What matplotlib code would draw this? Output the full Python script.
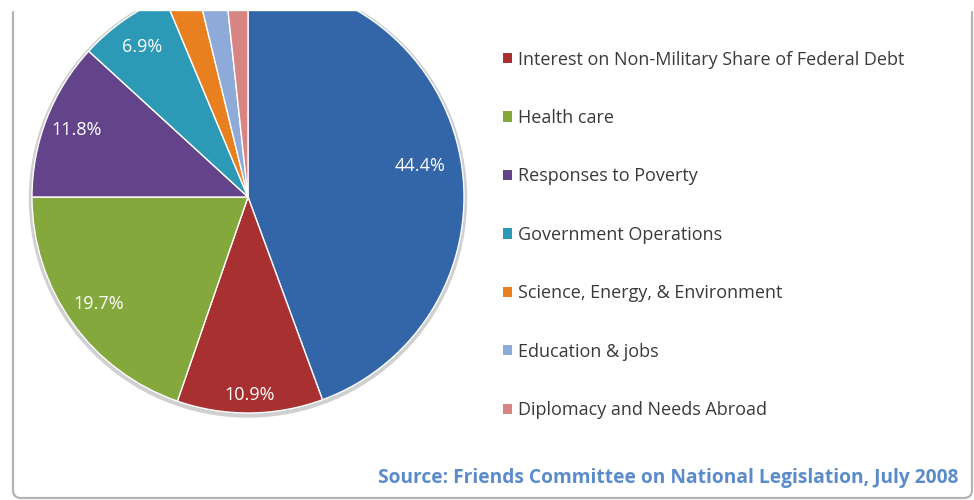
import matplotlib.pyplot as plt
from matplotlib.patches import FancyBboxPatch, Rectangle, Circle

# data
labels = ['Military',
          'Interest on Non-Military Share of Federal Debt',
          'Health care',
          'Responses to Poverty',
          'Government Operations',
          'Science, Energy, & Environment',
          'Education & jobs',
          'Diplomacy and Needs Abroad']
shares = [44.4, 10.9, 19.7, 11.8, 6.9, 2.5, 2.1, 1.7]
colors = ['#3366a8', '#a83030', '#84a83c', '#63448a', '#2c9ab6',
          '#e8801f', '#8eaad8', '#d68484']
source = 'Source: Friends Committee on National Legislation, July 2008'

plt.rcParams['font.family'] = ['Open Sans', 'DejaVu Sans']

fig = plt.figure(figsize=(9.74, 5.0), dpi=100)
ax = fig.add_axes([0, 0, 1, 1])

# rounded frame, top is cut off like the screenshot
frame = FancyBboxPatch((13, 2), 959, 540, boxstyle='round,pad=0,rounding_size=8',
                       facecolor='white', edgecolor='#b4b4b4', lw=1.6, zorder=0)
ax.add_patch(frame)

cx, cy, r = 248, 303, 216
ax.add_patch(Circle((cx, cy - 1.5), r + 2.5, color='#d0d0d0', zorder=1))

def pct(v):
    return '%.1f%%' % v if v > 5 else ''

wedges, texts, autotexts = ax.pie(shares, colors=colors, startangle=90, counterclock=False,
                                  center=(cx, cy), radius=r, frame=True,
                                  autopct=pct, pctdistance=0.85,
                                  wedgeprops=dict(edgecolor='white', linewidth=1.0),
                                  textprops=dict(color='white', fontsize=13))
for w in wedges:
    w.set_zorder(2)
for t in autotexts:
    t.set_zorder(3)
# excel "best fit" places these two a bit differently
x, y = autotexts[0].get_position()
autotexts[0].set_position((cx + (x - cx) * 0.95, cy + (y - cy) * 0.95))
x, y = autotexts[1].get_position()
autotexts[1].set_position((cx + (x - cx) * 1.08, cy + (y - cy) * 1.08))

leg = ax.legend(wedges[1:], labels[1:], loc='upper left', bbox_to_anchor=(0.507, 0.917),
                frameon=False, fontsize=13, labelcolor='#3a3a3a',
                handlelength=0.5, handleheight=0.5, handletextpad=0.35,
                labelspacing=2.24, borderpad=0)
for h in leg.legend_handles:
    h.set_edgecolor('none')

ax.text(958, 22, source, ha='right', va='center', fontsize=13.8, fontweight='bold',
        color='#5a8ccc')

# white strip where the screenshot was cropped
ax.add_patch(Rectangle((0, 490), 974, 20, color='white', zorder=5))

ax.set_xlim(0, 974)
ax.set_ylim(0, 500)
ax.axis('off')

fig.savefig('out.png', dpi=100)
